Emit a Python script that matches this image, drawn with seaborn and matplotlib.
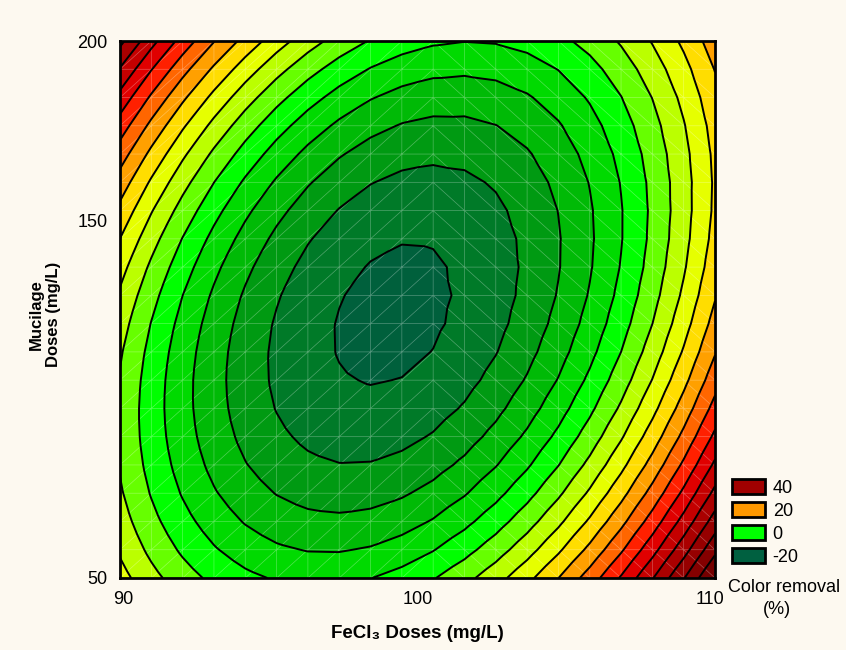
import numpy as np
import matplotlib
matplotlib.use('Agg')
import matplotlib.pyplot as plt
import matplotlib.tri as mtri
import matplotlib.transforms as mtrans
from matplotlib.patches import Patch
from matplotlib.ticker import MultipleLocator
import seaborn as sns

# Axis ranges of the design (FeCl3 and mucilage doses, mg/L)
fe_limits = [90, 110]
mucilage_limits = [50, 200]
n_grid = 20

# Second order response surface, coded units
b0 = -21.0
b_fe = 5.0
b_muc = -0.7
b_fe2 = 32.5
b_muc2 = 18.8
b_fe_muc = -16.5

# Contour levels and the colour of each band (coloured by its upper level)
levels = [-30, -20, -16, -12, -8, -4, 0, 4, 8, 12, 16, 20, 24, 28, 32, 36, 40, 44, 48, 52, 60]
band_colors = ['#00603C', '#007A28', '#009A12', '#00BA06', '#00DA00', '#00FF00',
               '#66FF00', '#BBFF00', '#E6FF00', '#FFDD00', '#FFA000', '#FF6600',
               '#FF2000', '#E00000', '#C40000', '#AA0000', '#960000', '#840000', '#740000',
               '#680000']

legend_values = [40, 20, 0, -20]
legend_colors = ['#A00000', '#FF9900', '#00FF00', '#006040']

x_ticks = [90, 100, 110]
y_ticks = [50, 150, 200]

sns.set_theme(style='white')
plt.rcParams['font.family'] = ['Liberation Sans', 'DejaVu Sans']
plt.rcParams['text.color'] = 'black'
plt.rcParams['axes.labelcolor'] = 'black'

# grid of the surface
fe = np.linspace(fe_limits[0], fe_limits[1], n_grid)
muc = np.linspace(mucilage_limits[0], mucilage_limits[1], n_grid)
FE, MU = np.meshgrid(fe, muc)
u = (FE - 100) / 10
v = (MU - 125) / 75
Z = b0 + b_fe * u + b_muc * v + b_fe2 * u**2 + b_muc2 * v**2 + b_fe_muc * u * v

# triangle mesh: "/" diagonals on the left half, "\" on the right half
triangles = []
for j in range(n_grid - 1):
    for i in range(n_grid - 1):
        p00 = j * n_grid + i
        p10 = p00 + 1
        p01 = p00 + n_grid
        p11 = p01 + 1
        if i < n_grid // 2:
            triangles += [[p00, p10, p11], [p00, p11, p01]]
        else:
            triangles += [[p00, p10, p01], [p10, p11, p01]]
tri = mtri.Triangulation(FE.ravel(), MU.ravel(), triangles)

bg = '#FDF9F0'
fig = plt.figure(figsize=(8.46, 6.5), dpi=100, facecolor=bg)
ax = fig.add_axes([120 / 846, 1 - 578 / 650, 595 / 846, 537 / 650])

ax.tricontourf(tri, Z.ravel(), levels=levels, colors=band_colors)
ax.triplot(tri, color='white', lw=0.5, alpha=0.32)
ax.tricontour(tri, Z.ravel(), levels=levels[1:-2], colors='black',
              linewidths=1.4, linestyles='solid')

ax.set_xlim(fe_limits)
ax.set_ylim(mucilage_limits)
ax.set_xticks(x_ticks)
ax.set_yticks(y_ticks)
ax.xaxis.set_minor_locator(MultipleLocator(20 / 12))
ax.yaxis.set_minor_locator(MultipleLocator(150 / 16))
ax.tick_params(which='major', length=0, pad=9, labelsize=13, colors='black')
ax.tick_params(which='minor', direction='in', length=4, width=1, color='black',
               top=True, right=True, bottom=True, left=True)
for s in ax.spines.values():
    s.set_color('black')
    s.set_linewidth(2)

# end labels sit a little inside the axis ends
xlabels = ax.get_xticklabels()
xlabels[0].set_transform(xlabels[0].get_transform() + mtrans.ScaledTranslation(3 / 100, 0, fig.dpi_scale_trans))
xlabels[-1].set_transform(xlabels[-1].get_transform() + mtrans.ScaledTranslation(-5 / 100, 0, fig.dpi_scale_trans))

ax.set_xlabel('FeCl₃ Doses (mg/L)', fontsize=13.5, fontweight='bold')
ax.set_ylabel('Mucilage\nDoses (mg/L)', fontsize=12, fontweight='bold')
ax.xaxis.set_label_coords(0.5, -(634 - 578) / 537)
ax.xaxis.label.set_va('center')
ax.yaxis.set_label_coords(-(120 - 45) / 595, 0.49)
ax.yaxis.label.set_va('center')

handles = [Patch(facecolor=c, edgecolor='black', linewidth=2) for c in legend_colors]
ax.legend(handles, [str(x) for x in legend_values], loc='upper left',
          bbox_to_anchor=(732 / 846, 1 - 479 / 650), bbox_transform=fig.transFigure,
          frameon=False, fontsize=13, borderpad=0, borderaxespad=0,
          handlelength=1.85, handleheight=0.9, handletextpad=0.4, labelspacing=0.3)
fig.text(728 / 846, 1 - 588 / 650, 'Color removal', ha='left', va='center', fontsize=13)
fig.text(777 / 846, 1 - 610 / 650, '(%)', ha='center', va='center', fontsize=13)

fig.savefig('out.png', dpi=100, facecolor=bg)
plt.close()
